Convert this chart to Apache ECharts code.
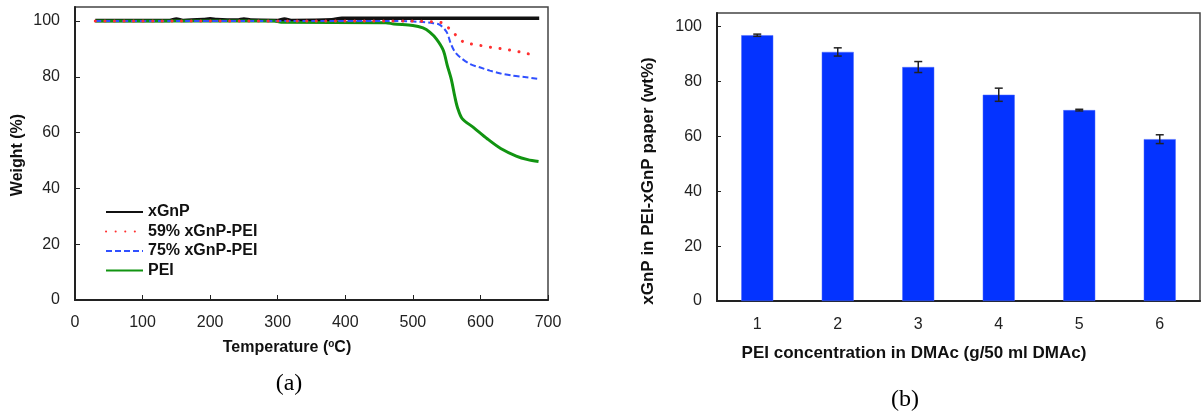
<!DOCTYPE html>
<html>
<head>
<meta charset="utf-8">
<script src="https://cdn.jsdelivr.net/npm/echarts@6/dist/echarts.min.js"></script>
<style>
  html, body { margin: 0; padding: 0; background: #fff; }
  #chart { width: 1201px; height: 418px; }
</style>
</head>
<body>
<div id="chart"></div>
<script>
  // (a) TGA curves: temperature (°C) / weight (%)
  const tempXGnP = [30, 140, 150, 160, 190, 200, 210, 240, 250, 260, 300, 310, 320, 380, 395, 687]
  const wtXGnP = [100.2, 100.2, 100.7, 100.2, 100.5, 100.8, 100.5, 100.3, 100.7, 100.3, 100.2, 100.7, 100.2, 100.4, 101, 101]

  const temp59 = [30, 500, 530, 544, 552, 562, 574, 584, 600, 615, 630, 645, 660, 680]
  const wt59 = [100, 100, 99.7, 99.3, 97.7, 95.3, 92.6, 91.9, 91.2, 90.6, 90.1, 89.5, 88.8, 87.7]

  const temp75 = [30, 480, 515, 530, 540, 550, 556, 562, 570, 585, 600, 614, 630, 645, 665, 684]
  const wt75 = [100, 100, 99.6, 99.2, 98.6, 96, 92, 89, 87, 84.5, 83.3, 82.2, 81.2, 80.5, 79.9, 79.3]

  const tempPEI = [30, 295, 305, 460, 472, 500, 515, 525, 535, 545, 551, 557, 562, 566, 573, 590, 610, 630, 653, 670, 686]
  const wtPEI = [100, 100, 99.5, 99.4, 98.9, 98.4, 97.5, 96, 93.5, 89.5, 84, 79, 73, 69, 65, 61.8, 57.8, 54.3, 51.6, 50.3, 49.6]

  const seriesNames = ['xGnP', '59% xGnP-PEI', '75% xGnP-PEI', 'PEI']
  const yTicks = [0, 20, 40, 60, 80, 100]

  // (b) bars with error bars
  const concCategories = ['1', '2', '3', '4', '5', '6']
  const xgnpContent = [96.9, 90.8, 85.3, 75.2, 69.6, 59.0]
  const xgnpError = [0.4, 1.5, 2.0, 2.4, 0.3, 1.6]

  const pairs = (xs, ys) => xs.map((x, i) => [x, ys[i]])

  const labelFont = { fontFamily: 'Liberation Sans', fontSize: 16, color: '#222' }

  const chart = echarts.init(document.getElementById('chart'))

  const lineSeries = (name, xs, ys, color, lineStyle, z) => ({
    name: name,
    type: 'line',
    xAxisIndex: 0,
    yAxisIndex: 0,
    data: pairs(xs, ys),
    symbol: 'none',
    smooth: 0.3,
    z: z,
    itemStyle: { color: color },
    lineStyle: Object.assign({ color: color }, lineStyle)
  })

  const option = {
    animation: false,
    backgroundColor: '#fff',
    grid: [
      { left: 75, top: 7, width: 473, height: 293, show: true, borderColor: '#444', borderWidth: 1.5 },
      { left: 717, top: 13, width: 483, height: 288, show: true, borderColor: '#444', borderWidth: 1.5 }
    ],
    legend: {
      orient: 'vertical',
      left: 105,
      top: 204,
      padding: 0,
      itemWidth: 37,
      itemHeight: 12,
      itemGap: 3.5,
      data: seriesNames,
      itemStyle: { opacity: 0 },
      textStyle: { fontFamily: 'Liberation Sans', fontSize: 16, fontWeight: 'bold', color: '#111' }
    },
    xAxis: [
      {
        type: 'value', gridIndex: 0, min: 0, max: 700, interval: 100,
        axisLine: { lineStyle: { color: '#222', width: 2 } },
        axisTick: { inside: true, length: 5, lineStyle: { color: '#222' } },
        axisLabel: Object.assign({ margin: 15 }, labelFont),
        splitLine: { show: false }
      },
      {
        type: 'category', gridIndex: 1, data: concCategories,
        axisLine: { lineStyle: { color: '#222', width: 2 } },
        axisTick: { inside: true, length: 5, alignWithLabel: false, lineStyle: { color: '#222' } },
        axisLabel: Object.assign({ margin: 16 }, labelFont),
        splitLine: { show: false }
      }
    ],
    yAxis: [
      {
        type: 'value', gridIndex: 0, min: 0, max: 105, interval: 20,
        axisLine: { show: true, lineStyle: { color: '#222', width: 2 } },
        axisTick: { show: true, inside: true, length: 5, customValues: yTicks, lineStyle: { color: '#222' } },
        axisLabel: Object.assign({ margin: 15, customValues: yTicks }, labelFont),
        splitLine: { show: false }
      },
      {
        type: 'value', gridIndex: 1, min: 0, max: 105, interval: 20,
        axisLine: { show: true, lineStyle: { color: '#222', width: 2 } },
        axisTick: { show: true, inside: true, length: 4, customValues: yTicks, lineStyle: { color: '#222' } },
        axisLabel: Object.assign({ margin: 15, customValues: yTicks }, labelFont),
        splitLine: { show: false }
      }
    ],
    series: [
      lineSeries(seriesNames[0], tempXGnP, wtXGnP, '#111', { width: 3.5 }, 2),
      lineSeries(seriesNames[1], temp59, wt59, '#ff3030', { width: 3, type: [0.1, 9.5], cap: 'round' }, 5),
      lineSeries(seriesNames[2], temp75, wt75, '#3050ff', { width: 2, type: [6, 3] }, 4),
      lineSeries(seriesNames[3], tempPEI, wtPEI, '#119411', { width: 3 }, 3),
      {
        type: 'bar',
        xAxisIndex: 1,
        yAxisIndex: 1,
        data: xgnpContent,
        barWidth: 32,
        itemStyle: { color: '#0433ff', borderColor: '#4d6bff', borderWidth: 0.5 }
      },
      {
        type: 'custom',
        xAxisIndex: 1,
        yAxisIndex: 1,
        z: 5,
        data: xgnpContent.map((v, i) => [i, v - xgnpError[i], v + xgnpError[i]]),
        renderItem: (params, api) => {
          const lo = api.coord([api.value(0), api.value(1)])
          const hi = api.coord([api.value(0), api.value(2)])
          const half = 4
          const style = { stroke: '#222', lineWidth: 1.5 }
          return {
            type: 'group',
            children: [
              { type: 'line', shape: { x1: lo[0], y1: lo[1], x2: hi[0], y2: hi[1] }, style: style },
              { type: 'line', shape: { x1: lo[0] - half, y1: lo[1], x2: lo[0] + half, y2: lo[1] }, style: style },
              { type: 'line', shape: { x1: hi[0] - half, y1: hi[1], x2: hi[0] + half, y2: hi[1] }, style: style }
            ]
          }
        }
      }
    ],
    graphic: [
      {
        type: 'text', x: 18, y: 155, rotation: Math.PI / 2,
        style: { text: 'Weight (%)', font: 'bold 16px "Liberation Sans"', fill: '#111', align: 'center', verticalAlign: 'middle' }
      },
      {
        type: 'text', x: 287, y: 348,
        style: {
          text: 'Temperature ({s|o}C)', font: 'bold 16px "Liberation Sans"', fill: '#111', align: 'center', verticalAlign: 'middle',
          rich: { s: { font: 'bold 10px "Liberation Sans"', fill: '#111', padding: [0, 0, 8, 0] } }
        }
      },
      {
        type: 'text', x: 289, y: 384,
        style: { text: '(a)', font: '24px "Liberation Serif"', fill: '#000', align: 'center', verticalAlign: 'middle' }
      },
      {
        type: 'text', x: 648, y: 181, rotation: Math.PI / 2,
        style: { text: 'xGnP in PEI-xGnP paper (wt%)', font: 'bold 17px "Liberation Sans"', fill: '#111', align: 'center', verticalAlign: 'middle' }
      },
      {
        type: 'text', x: 914, y: 353,
        style: { text: 'PEI concentration in DMAc (g/50 ml DMAc)', font: 'bold 17px "Liberation Sans"', fill: '#111', align: 'center', verticalAlign: 'middle' }
      },
      {
        type: 'text', x: 905, y: 400,
        style: { text: '(b)', font: '24px "Liberation Serif"', fill: '#000', align: 'center', verticalAlign: 'middle' }
      }
    ]
  }

  chart.setOption(option)
</script>
</body>
</html>
